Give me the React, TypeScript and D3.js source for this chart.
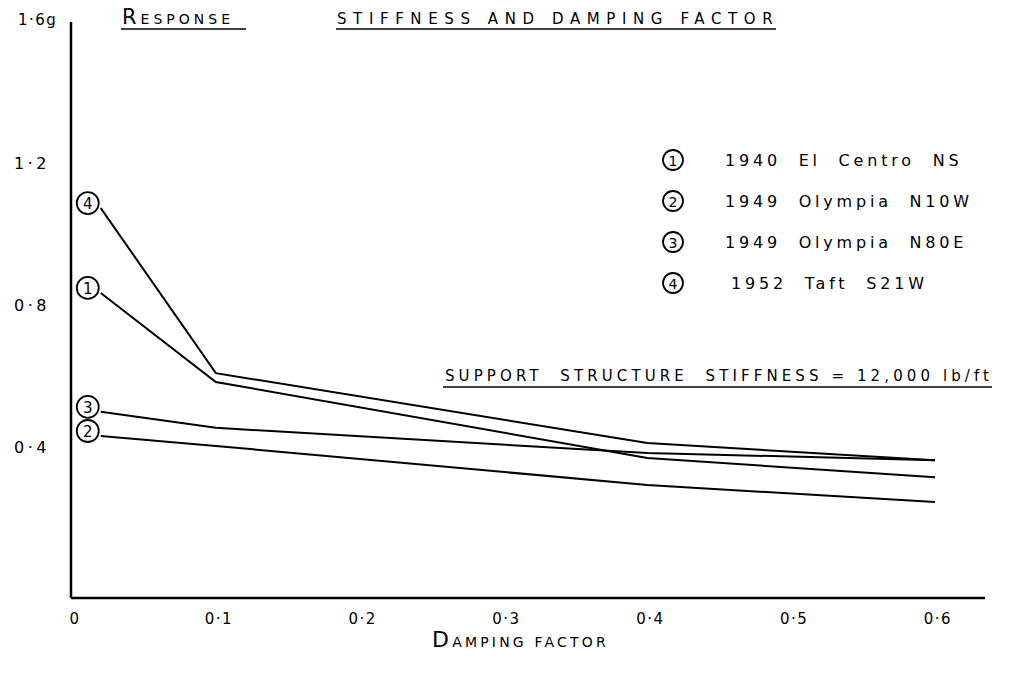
import * as d3 from 'd3';

// damping factor values where each record was read
const damping = [0.02, 0.1, 0.4, 0.6];

// response (g) per earthquake record
const elCentro = [0.834, 0.583, 0.369, 0.315];
const olympiaN10W = [0.431, 0.403, 0.293, 0.245];
const olympiaN80E = [0.499, 0.454, 0.383, 0.363];
const taft = [1.073, 0.608, 0.411, 0.363];

const seriesIds = ['1', '2', '3', '4'];
const seriesNames = ['1940  El  Centro  NS', '1949  Olympia  N10W', '1949  Olympia  N80E', '1952  Taft  S21W'];
const seriesValues = [elCentro, olympiaN10W, olympiaN80E, taft];

const xTicks = [0, 0.1, 0.2, 0.3, 0.4, 0.5, 0.6];
const xTickLabels = ['0', '0·1', '0·2', '0·3', '0·4', '0·5', '0·6'];
const yTicks = [0.4, 0.8, 1.2, 1.6];
const yTickLabels = ['0·4', '0·8', '1·2', '1·6g'];

const W = 1034;
const H = 678;
const FONT = '"DejaVu Sans", sans-serif';

export default function App() {
  const x = d3.scaleLinear().domain([0, 0.6]).range([72, 935]);
  const y = d3.scaleLinear().domain([0, 1.6]).range([589, 21]);

  const line = d3
    .line<number>()
    .x((_, i) => x(damping[i]))
    .y(d => y(d));

  const axisY = 598;
  const axisX = 71;

  return (
    <svg
      width={W}
      height={H}
      style={{ position: 'absolute', left: 0, top: 0, background: '#fff' }}
      fontFamily={FONT}
    >
      {/* axes */}
      <line x1={axisX} y1={22} x2={axisX} y2={axisY} stroke="#000" strokeWidth={2.5} />
      <line x1={axisX} y1={axisY} x2={985} y2={axisY} stroke="#000" strokeWidth={2.5} />

      {/* x tick labels */}
      {xTicks.map((t, i) => (
        <text key={'xt' + i} x={x(t) + 3} y={624} textAnchor="middle" fontSize={15} letterSpacing={1.5}>
          {xTickLabels[i]}
        </text>
      ))}

      {/* y tick labels */}
      {yTicks.map((t, i) =>
        t === 1.6 ? (
          <text key={'yt' + i} x={18} y={y(t) + 4} fontSize={15} letterSpacing={1.5}>
            {yTickLabels[i]}
          </text>
        ) : (
          <text key={'yt' + i} x={32} y={y(t) + 6} textAnchor="middle" fontSize={16} letterSpacing={3.5}>
            {yTickLabels[i]}
          </text>
        )
      )}

      {/* series lines */}
      {seriesValues.map((vals, i) => (
        <path key={'s' + i} d={line(vals) ?? ''} fill="none" stroke="#000" strokeWidth={2} />
      ))}

      {/* circled ids at the start of each line */}
      {seriesValues.map((vals, i) => (
        <g key={'c' + i} transform={`translate(${x(damping[0]) - 13},${y(vals[0]) - 5})`}>
          <circle r={11} fill="#fff" stroke="#000" strokeWidth={1.8} />
          <text y={6} textAnchor="middle" fontSize={15}>
            {seriesIds[i]}
          </text>
        </g>
      ))}

      {/* legend */}
      {seriesNames.map((name, i) => (
        <g key={'l' + i} transform={`translate(673,${160 + i * 41})`}>
          <circle r={10} fill="#fff" stroke="#000" strokeWidth={1.8} />
          <text y={5.5} textAnchor="middle" fontSize={14}>
            {seriesIds[i]}
          </text>
          <text x={i === 3 ? 58 : 52} y={6} fontSize={16} letterSpacing={3.8} style={{ whiteSpace: 'pre' }}>
            {name}
          </text>
        </g>
      ))}

      {/* titles */}
      <text x={122} y={24} fontSize={14} letterSpacing={4}>
        <tspan fontSize={21}>R</tspan>ESPONSE
      </text>
      <line x1={121} y1={29} x2={246} y2={29} stroke="#000" strokeWidth={1.5} />

      <text x={337} y={24} fontSize={15} letterSpacing={6.6} style={{ whiteSpace: 'pre' }}>
        STIFFNESS AND DAMPING FACTOR
      </text>
      <line x1={336} y1={29} x2={776} y2={29} stroke="#000" strokeWidth={1.5} />

      <text x={445} y={381} fontSize={15} letterSpacing={4.1} style={{ whiteSpace: 'pre' }}>
        SUPPORT  STRUCTURE  STIFFNESS = 12,000 lb/ft
      </text>
      <line x1={443} y1={387} x2={992} y2={387} stroke="#000" strokeWidth={1.5} />

      <text x={432} y={647} fontSize={14} letterSpacing={3.2}>
        <tspan fontSize={22}>D</tspan>AMPING FACTOR
      </text>
    </svg>
  );
}
